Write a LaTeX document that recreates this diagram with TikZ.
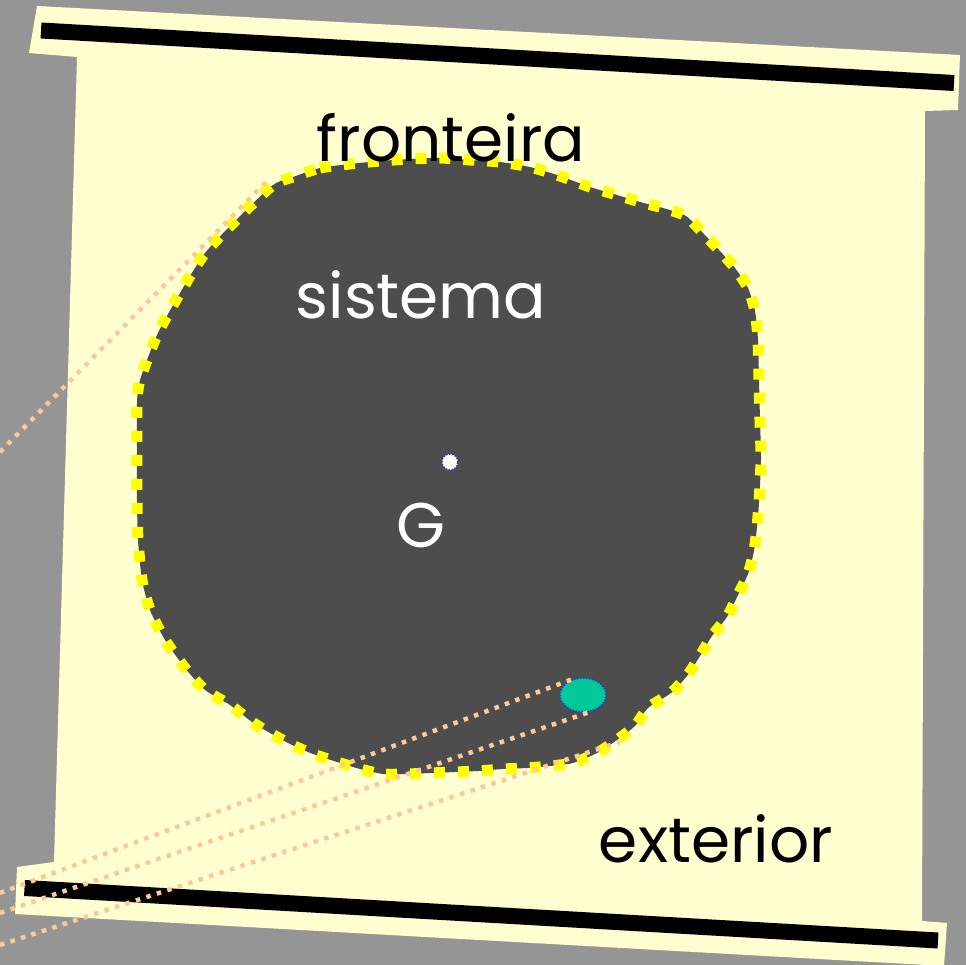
\documentclass[tikz,border=0pt]{standalone}
\usepackage{fontspec}
\setmainfont{Poppins}
\usepackage{tikz}
\usetikzlibrary{
  positioning,
  shapes.geometric,
  calc,
}
\definecolor{bggray}{HTML}{959595}
\definecolor{scrollbg}{HTML}{FFFFD0}
\definecolor{sysgray}{HTML}{4D4D4D}
\definecolor{frontyellow}{HTML}{FFFF00}
\definecolor{rayorange}{HTML}{FFC899}
\definecolor{massgreen}{HTML}{00C896}
\definecolor{dotblue}{HTML}{3333CC}

\begin{document}
\begin{tikzpicture}[x=1pt, y=-1pt,
  bar/.style={line width=16pt},
  boundary/.style={frontyellow, line width=11pt, dash pattern=on 11pt off 13pt},
  ray/.style={rayorange, line width=4.5pt, dash pattern=on 4.5pt off 6.5pt},
  txt/.style={font=\fontsize{63}{66}\selectfont, inner sep=0pt, anchor=base}]
  \useasboundingbox (0,0) rectangle (966,965);
  \fill[bggray] (0,0) rectangle (966,965);
  \fill[scrollbg] (37,6) -- (960,55) -- (958,110) -- (925,111) -- (922,921)
    -- (947,923) -- (944,966) -- (15,914) -- (17,867) -- (54,862)
    -- (77,57) -- (29,53) -- cycle;
  \draw[bar] (41,30.5) -- (954,83);
  \draw[bar] (24.5,888) -- (938,940.5);
  \fill[sysgray] plot[smooth cycle, tension=0.4] coordinates {
    (293,177) (320,168) (350,164) (380,161) (410,159) (440,158) (470,160)
    (500,162) (530,167) (560,176) (590,187) (617,195) (640,202) (663,208)
    (686,216) (703,233) (719,250) (735,268) (748,288) (755,311) (758,340)
    (759,380) (760,420) (761,460) (759,503) (757,527) (754,551) (748,574)
    (738,595) (727,617) (712,636) (700,656) (687,676) (671,693) (648,708)
    (635,726) (617,740) (597,753) (573,763) (550,766) (527,768) (503,769)
    (478,771) (455,772) (430,773) (407,774) (383,774) (360,769) (337,762)
    (313,754) (292,745) (270,733) (252,722) (230,705) (205,690) (185,668)
    (165,640) (150,610) (142,580) (138,540) (137,500) (137,450) (137,403)
    (140,380) (157,335) (180,293) (205,253) (238,218) (273,185)};
  \draw[boundary] plot[smooth cycle, tension=0.4] coordinates {
    (293,177) (320,168) (350,164) (380,161) (410,159) (440,158) (470,160)
    (500,162) (530,167) (560,176) (590,187) (617,195) (640,202) (663,208)
    (686,216) (703,233) (719,250) (735,268) (748,288) (755,311) (758,340)
    (759,380) (760,420) (761,460) (759,503) (757,527) (754,551) (748,574)
    (738,595) (727,617) (712,636) (700,656) (687,676) (671,693) (648,708)
    (635,726) (617,740) (597,753) (573,763) (550,766) (527,768) (503,769)
    (478,771) (455,772) (430,773) (407,774) (383,774) (360,769) (337,762)
    (313,754) (292,745) (270,733) (252,722) (230,705) (205,690) (185,668)
    (165,640) (150,610) (142,580) (138,540) (137,500) (137,450) (137,403)
    (140,380) (157,335) (180,293) (205,253) (238,218) (273,185)};

  \node[circle, minimum size=16pt, inner sep=0pt, fill=white,
    draw=dotblue, line width=1.5pt, dash pattern=on 1.5pt off 1.5pt] (gdot) at (450,462) {};
  \node[ellipse, minimum width=46pt, minimum height=34pt, inner sep=0pt, fill=massgreen,
    draw=dotblue, line width=1.5pt, dash pattern=on 1.5pt off 1.5pt] (mass) at (583,695) {};

  \coordinate (rayA) at (0,452);
  \coordinate (rayAend) at (266,182);
  \coordinate (rayB) at (0,893);
  \coordinate (rayC) at (0,913);
  \coordinate (rayD) at (0,945);
  \coordinate (rayDend) at (620,742);
  \draw[ray] (rayA) -- (rayAend);
  \draw[ray] (rayB) -- (mass.120);
  \draw[ray] (rayC) -- (mass.290);
  \draw[ray] (rayD) -- (rayDend);

  \node[txt] (fronteira) at (451,162) {fronteira};
  \node[txt, white] (sistema) at (421,319) {sistema};
  \node[txt, white] (glabel) at (421,547) {G};
  \node[txt] (exterior) at (716,862) {exterior};
\end{tikzpicture}
\end{document}
